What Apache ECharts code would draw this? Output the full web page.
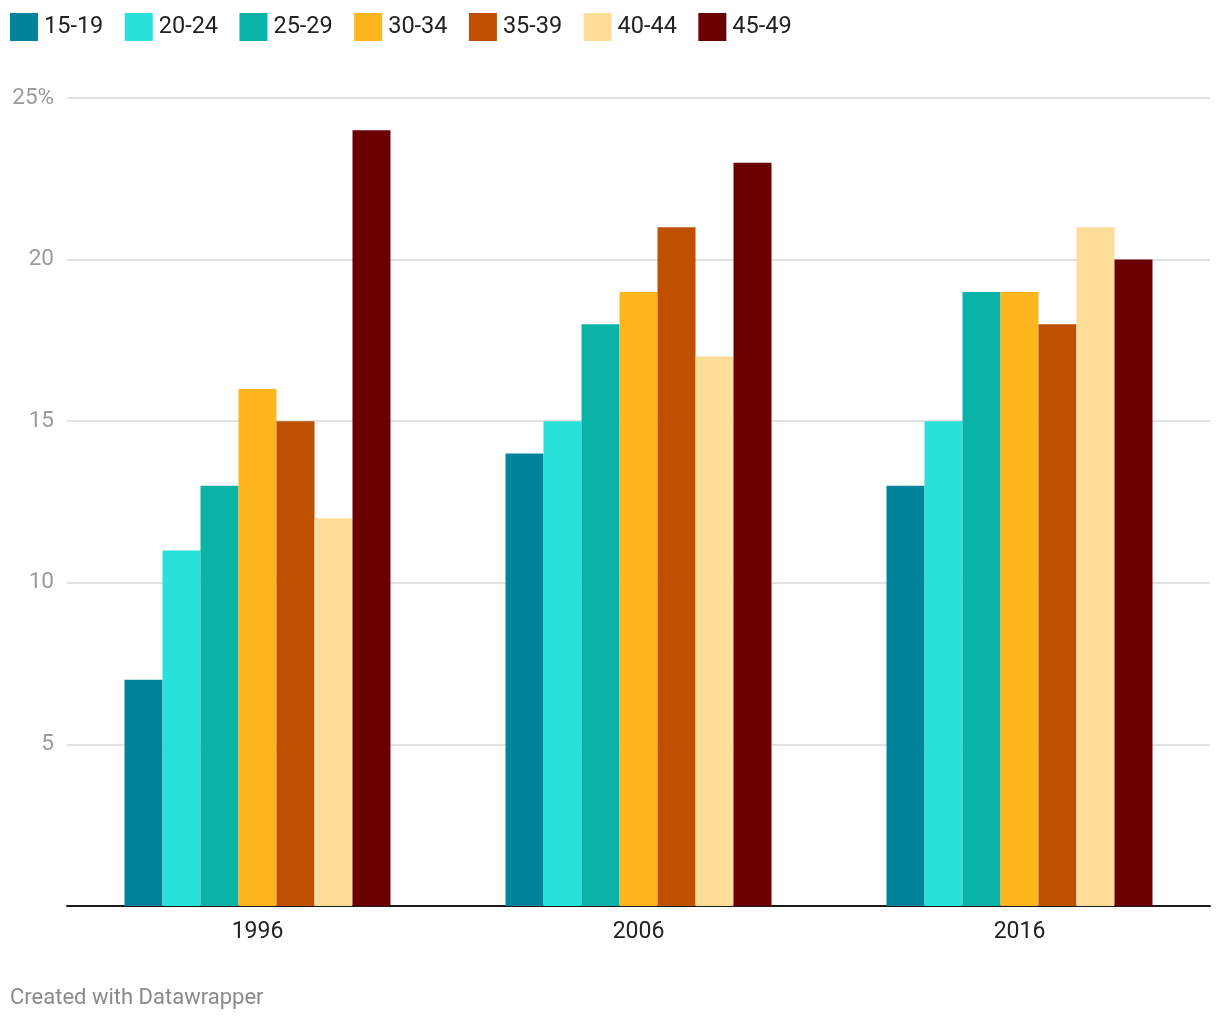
<!DOCTYPE html>
<html><head><meta charset="utf-8">
<script src="https://cdn.jsdelivr.net/npm/echarts@6/dist/echarts.min.js"></script>
<style>html,body{margin:0;padding:0;background:#fff}#c{width:1220px;height:1020px}</style>
</head><body><div id="c"></div>
<script>
const categories = ['1996', '2006', '2016'];
const seriesNames = ['15-19', '20-24', '25-29', '30-34', '35-39', '40-44', '45-49'];
const s15_19 = [7, 14, 13];
const s20_24 = [11, 15, 15];
const s25_29 = [13, 18, 19];
const s30_34 = [16, 19, 19];
const s35_39 = [15, 21, 18];
const s40_44 = [12, 17, 21];
const s45_49 = [24, 23, 20];
const values = [s15_19, s20_24, s25_29, s30_34, s35_39, s40_44, s45_49];
const colors = ['#01839b', '#27e1da', '#09b3a7', '#feb51e', '#be5000', '#fddd98', '#6b0000'];

const chart = echarts.init(document.getElementById('c'));
chart.setOption({
  animation: false,
  color: colors,
  legend: {
    left: 10, top: 13, padding: 0, itemWidth: 28, itemHeight: 28, itemGap: 21.4,
    icon: 'rect',
    textStyle: { fontFamily: 'Roboto', fontSize: 23.5, color: '#222', padding: [0, 0, 0, 1] },
    data: seriesNames
  },
  grid: { left: 67, right: 10, top: 98, bottom: 114, containLabel: false },
  xAxis: {
    type: 'category', data: categories,
    axisLine: { lineStyle: { color: '#1a1a1a', width: 2 } },
    axisTick: { show: false },
    axisLabel: { fontFamily: 'Roboto', fontSize: 23, color: '#222', margin: 15 }
  },
  yAxis: {
    type: 'value', min: 0, max: 25, interval: 5,
    axisLine: { show: false }, axisTick: { show: false },
    splitLine: { lineStyle: { color: '#e3e3e3', width: 2 } },
    axisLabel: {
      fontFamily: 'Roboto', fontSize: 22.5, color: '#9a9a9a', margin: 13,
      formatter: v => v === 0 ? '' : (v === 25 ? '25%' : String(v))
    }
  },
  series: seriesNames.map((n, i) => ({
    name: n, type: 'bar', data: values[i], barWidth: 38, barGap: '0%',
    itemStyle: { color: colors[i] }
  })),
  graphic: [{
    type: 'text', left: 10, top: 987,
    style: { text: 'Created with Datawrapper', fontFamily: 'Roboto', fontSize: 22, fill: '#8a8a8a' }
  }]
});
</script></body></html>
